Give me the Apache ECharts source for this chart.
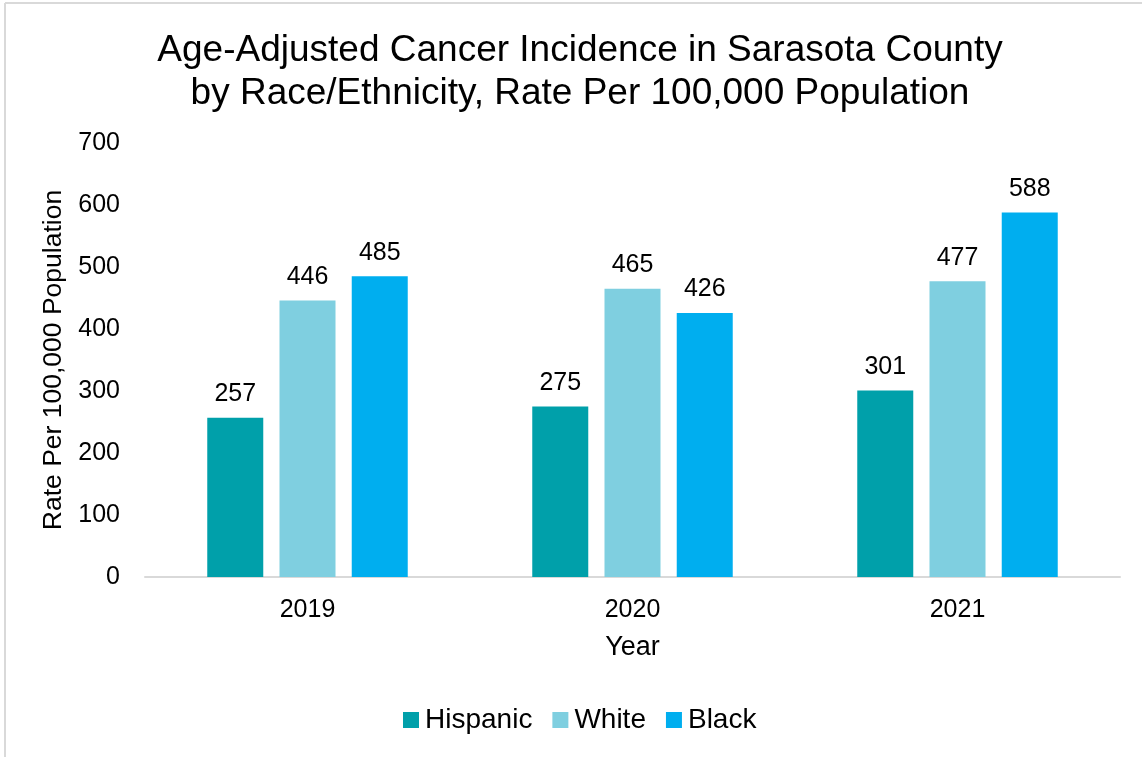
<!DOCTYPE html>
<html>
<head>
<meta charset="utf-8">
<script src="https://cdn.jsdelivr.net/npm/echarts@6/dist/echarts.min.js"></script>
<style>html,body{margin:0;padding:0;background:#fff;}#c{width:1142px;height:757px;}</style>
</head>
<body>
<div id="c"></div>
<script>
const years = ['2019', '2020', '2021'];
const hispanic = [257, 275, 301];
const white = [446, 465, 477];
const black = [485, 426, 588];
const yTicks = { min: 0, max: 700, interval: 100 };

const font = '"Liberation Sans", Arial, sans-serif';
const chart = echarts.init(document.getElementById('c'));
const lbl = { show: true, position: 'top', distance: 11, fontSize: 25, color: '#000', fontFamily: font };
chart.setOption({
  animation: false,
  textStyle: { fontFamily: font },
  title: {
    text: 'Age-Adjusted Cancer Incidence in Sarasota County\nby Race/Ethnicity, Rate Per 100,000 Population',
    left: 575, textAlign: 'center', top: 24,
    textStyle: { fontSize: 37, fontWeight: 'normal', color: '#000', lineHeight: 43, fontFamily: font }
  },
  legend: {
    top: 701, left: 398,
    itemWidth: 16, itemHeight: 16, itemGap: 20,
    icon: 'rect',
    textStyle: { fontSize: 28, color: '#000', fontFamily: font, padding: [0, 0, 0, 1] },
    data: ['Hispanic', 'White', 'Black']
  },
  grid: { left: 145, right: 22, top: 143, bottom: 180 },
  xAxis: {
    type: 'category', data: years,
    name: 'Year', nameLocation: 'middle', nameGap: 57,
    nameTextStyle: { fontSize: 27, color: '#000', fontFamily: font },
    axisLine: { lineStyle: { color: '#d9d9d9', width: 2 } },
    axisTick: { show: false },
    axisLabel: { fontSize: 25, color: '#000', margin: 21, fontFamily: font }
  },
  yAxis: {
    type: 'value', min: yTicks.min, max: yTicks.max, interval: yTicks.interval,
    name: 'Rate Per 100,000 Population', nameLocation: 'middle', nameGap: 76,
    nameTextStyle: { fontSize: 26.5, color: '#000', fontFamily: font },
    splitLine: { show: false },
    axisLine: { show: false }, axisTick: { show: false },
    axisLabel: { fontSize: 25, color: '#000', margin: 25, fontFamily: font }
  },
  series: [
    { name: 'Hispanic', type: 'bar', data: hispanic, barWidth: 56, barGap: '29%', itemStyle: { color: '#00A0AA' }, label: lbl },
    { name: 'White', type: 'bar', data: white, barWidth: 56, barGap: '29%', itemStyle: { color: '#7FCFE0' }, label: lbl },
    { name: 'Black', type: 'bar', data: black, barWidth: 56, barGap: '29%', itemStyle: { color: '#00AEEF' }, label: lbl }
  ],
  graphic: [
    { type: 'line', shape: { x1: 5, y1: 3, x2: 1142, y2: 3 }, style: { stroke: '#d9d9d9', lineWidth: 2 } },
    { type: 'line', shape: { x1: 5, y1: 3, x2: 5, y2: 757 }, style: { stroke: '#d9d9d9', lineWidth: 2 } }
  ]
});
</script>
</body>
</html>
